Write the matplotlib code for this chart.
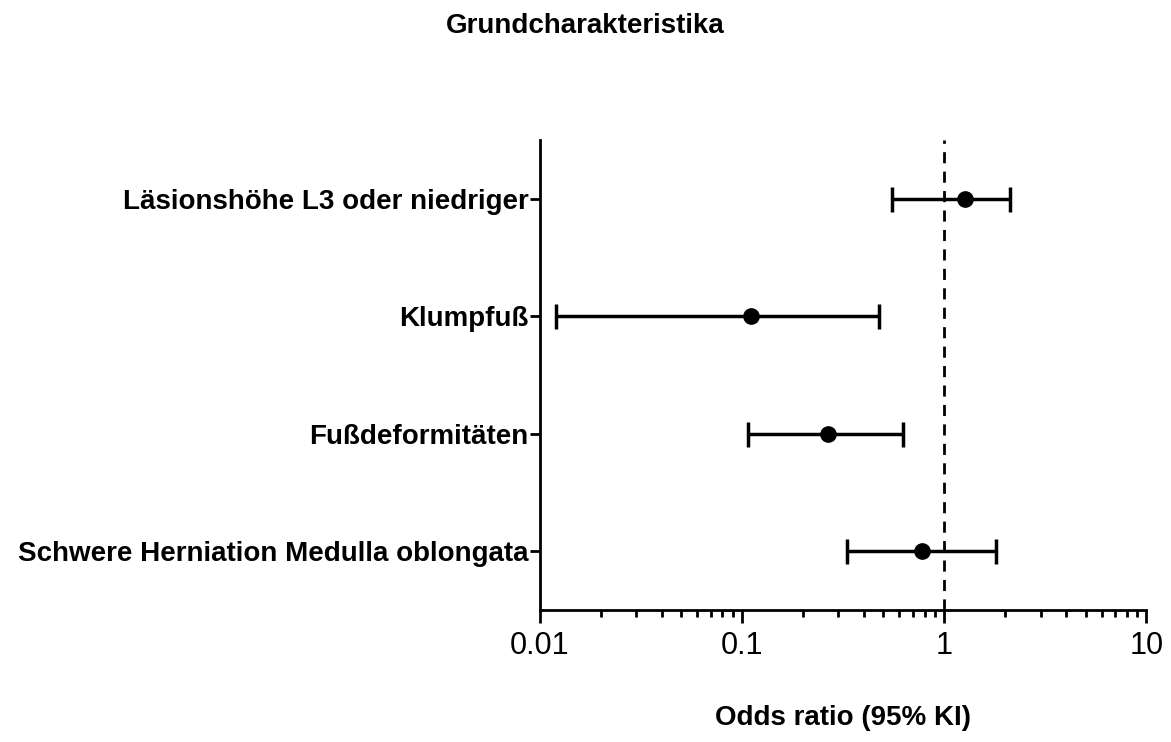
import numpy as np
import matplotlib
matplotlib.use("Agg")
import matplotlib.pyplot as plt
from matplotlib.ticker import LogLocator, NullFormatter, FixedLocator, FixedFormatter

plt.rcParams['font.family'] = ['Liberation Sans Narrow', 'Liberation Sans', 'DejaVu Sans']

# Odds ratios mit 95%-KI
labels = ['Läsionshöhe L3 oder niedriger', 'Klumpfuß', 'Fußdeformitäten',
          'Schwere Herniation Medulla oblongata']
odds = [1.26, 0.111, 0.267, 0.78]
ci_low = [0.553, 0.012, 0.107, 0.331]
ci_high = [2.12, 0.477, 0.627, 1.81]

odds = np.array(odds)
err = np.array([odds - np.array(ci_low), np.array(ci_high) - odds])
ypos = np.arange(len(labels))[::-1] + 1

fig = plt.figure(figsize=(11.71, 7.42), dpi=100)
ax = fig.add_axes([0.461, 0.178, 0.518, 0.633])

ax.errorbar(odds, ypos, xerr=err, fmt='o', color='black', ms=11,
            elinewidth=2.5, capsize=9, capthick=2.5, zorder=3)
ax.axvline(1, color='black', lw=2, ls=(0, (4, 3)), zorder=2)

ax.set_xscale('log')
ax.set_xlim(0.01, 10)
ax.set_ylim(0.5, 4.5)

ax.set_yticks(ypos)
ax.set_yticklabels(labels, fontsize=20, fontweight='bold')
ax.xaxis.set_major_locator(FixedLocator([0.01, 0.1, 1, 10]))
ax.xaxis.set_major_formatter(FixedFormatter(['0.01', '0.1', '1', '10']))
ax.xaxis.set_minor_locator(LogLocator(base=10, subs=np.arange(2, 10)))
ax.xaxis.set_minor_formatter(NullFormatter())
ax.tick_params(axis='x', which='major', labelsize=22, length=9, width=2, pad=6)
ax.tick_params(axis='x', which='minor', length=5, width=2)
ax.tick_params(axis='y', length=7, width=2, pad=1)

for s in ['top', 'right']:
    ax.spines[s].set_visible(False)
for s in ['left', 'bottom']:
    ax.spines[s].set_linewidth(2)

ax.set_xlabel('Odds ratio (95% KI)', fontsize=20, fontweight='bold', labelpad=32)
fig.text(0.5, 0.965, 'Grundcharakteristika', ha='center', va='center',
         fontsize=20, fontweight='bold')

fig.savefig('out.png', dpi=100)
